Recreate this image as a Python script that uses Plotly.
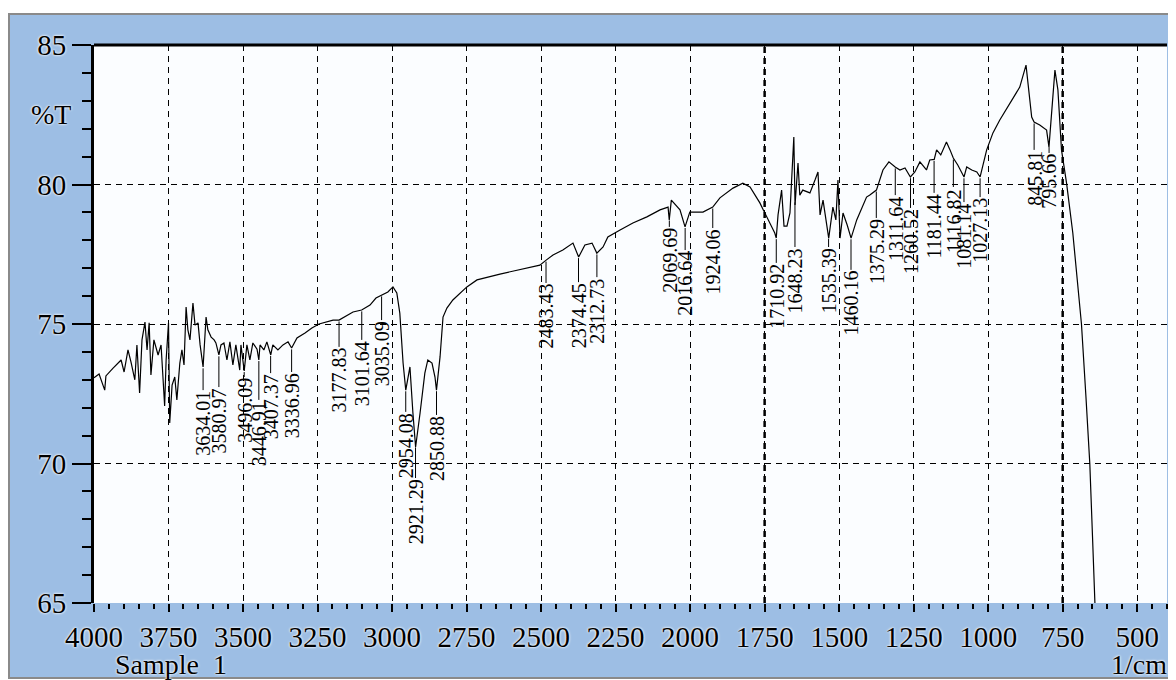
import numpy as np
import plotly.graph_objects as go

# ---------------- data ----------------
wavenumber = [4000, 3983, 3964, 3960, 3936, 3909, 3899, 3886, 3876, 3863,
              3856, 3847, 3839, 3829, 3822, 3815, 3809, 3799, 3785, 3775,
              3763, 3758, 3750, 3746, 3738, 3729, 3722, 3712, 3705, 3698,
              3691, 3685, 3678, 3668, 3661, 3651, 3644, 3634, 3624, 3618,
              3607, 3597, 3591, 3581, 3574, 3564, 3554, 3544, 3534, 3524,
              3511, 3507, 3496, 3487, 3477, 3467, 3453, 3447, 3443, 3430,
              3420, 3407, 3400, 3383, 3366, 3349, 3337, 3319, 3292, 3269,
              3245, 3222, 3198, 3178, 3155, 3131, 3102, 3074, 3054, 3035,
              3014, 2997, 2984, 2974, 2963, 2954, 2940, 2930, 2921, 2906,
              2890, 2880, 2866, 2856, 2851, 2839, 2829, 2816, 2796, 2749,
              2715, 2638, 2571, 2504, 2483, 2460, 2427, 2393, 2374, 2353,
              2329, 2313, 2292, 2276, 2235, 2192, 2145, 2101, 2074, 2070,
              2063, 2034, 2017, 2001, 1957, 1924, 1900, 1856, 1823, 1799,
              1766, 1742, 1716, 1711, 1705, 1693, 1685, 1675, 1665, 1652,
              1648, 1638, 1632, 1622, 1598, 1581, 1571, 1564, 1554, 1535,
              1521, 1511, 1504, 1497, 1487, 1473, 1460, 1441, 1408, 1397,
              1375, 1353, 1333, 1312, 1296, 1279, 1261, 1246, 1229, 1207,
              1196, 1181, 1173, 1159, 1140, 1128, 1117, 1102, 1081, 1072,
              1055, 1038, 1027, 1005, 984, 961, 927, 894, 873, 854,
              846, 827, 804, 796, 776, 766, 754, 737, 716, 687,
              672, 659, 650, 642, 630]
transmittance = [73.07, 73.21, 72.63, 73.14, 73.42, 73.71, 73.28, 74.07, 73.64, 73.00,
                 74.25, 72.53, 74.43, 75.07, 74.07, 75.04, 73.17, 74.43, 73.89, 74.25,
                 72.06, 73.71, 75.04, 71.45, 72.81, 73.10, 72.28, 73.60, 74.07, 73.53,
                 75.61, 74.79, 74.43, 75.75, 74.96, 75.04, 74.25, 73.46, 75.25, 74.79,
                 74.53, 74.43, 74.32, 73.89, 74.25, 74.32, 73.71, 74.36, 73.53, 74.25,
                 73.35, 74.25, 73.32, 74.25, 73.71, 74.32, 74.10, 73.71, 74.25, 74.07,
                 74.36, 73.89, 74.25, 74.07, 74.25, 74.36, 74.14, 74.50, 74.68, 74.86,
                 75.00, 75.07, 75.14, 75.14, 75.29, 75.43, 75.50, 75.68, 75.93, 76.04,
                 76.15, 76.33, 76.11, 75.39, 73.60, 72.63, 73.46, 71.81, 70.59, 71.81,
                 73.24, 73.71, 73.60, 73.10, 72.63, 73.82, 75.25, 75.57, 75.86, 76.33,
                 76.58, 76.79, 76.94, 77.11, 77.29, 77.47, 77.65, 77.90, 77.40, 77.83,
                 77.90, 77.54, 77.76, 78.12, 78.37, 78.62, 78.84, 79.09, 79.19, 78.73,
                 79.44, 79.09, 78.48, 79.01, 79.01, 79.19, 79.52, 79.87, 80.05, 79.91,
                 79.34, 78.84, 78.26, 78.08, 78.91, 79.80, 78.51, 78.51, 78.98, 81.70,
                 79.27, 80.77, 79.62, 79.80, 79.70, 80.16, 80.45, 78.91, 79.44, 78.08,
                 79.19, 78.73, 80.16, 78.08, 78.98, 78.55, 78.08, 78.73, 79.55, 79.62,
                 79.80, 80.52, 80.81, 80.63, 80.52, 80.59, 80.27, 80.45, 80.81, 80.52,
                 80.88, 80.90, 81.24, 81.06, 81.52, 81.24, 80.95, 80.70, 80.27, 80.63,
                 80.52, 80.45, 80.27, 81.24, 81.85, 82.31, 82.92, 83.49, 84.28, 82.42,
                 82.24, 82.13, 81.95, 81.34, 84.10, 83.39, 81.24, 80.05, 78.26, 75.00,
                 72.40, 70.00, 67.40, 65.00, 61.50]

peak_labels = ["3634.01", "3580.97", "3496.09", "3446.91", "3407.37", "3336.96",
               "3177.83", "3101.64", "3035.09", "2954.08", "2921.29", "2850.88",
               "2483.43", "2374.45", "2312.73", "2069.69", "2016.64", "1924.06",
               "1710.92", "1648.23", "1535.39", "1460.16", "1375.29", "1311.64",
               "1260.52", "1181.44", "1116.82", "1081.14", "1027.13", "845.81",
               "795.66"]
peak_wn = [float(s) for s in peak_labels]
label_top = [72.63, 72.74, 73.10, 72.28, 73.24, 73.28,
             74.18, 74.43, 75.14, 71.85, 69.48, 71.74,
             76.47, 76.50, 76.68, 78.48, 77.65, 78.44,
             77.19, 77.76, 77.76, 76.94, 78.80, 79.62,
             79.16, 79.70, 79.91, 79.37, 79.55, 81.24,
             81.13]

x_ticks = [4000, 3750, 3500, 3250, 3000, 2750, 2500, 2250, 2000, 1750, 1500, 1250, 1000, 750, 500]
y_ticks = [65, 70, 75, 80, 85]
heavy_grid = [1750, 750]

# ---------------- figure ----------------
# (the page body adds an 8px margin, so the figure is 8px smaller and margins shifted)
SERIF = "Liberation Serif, Times New Roman, serif"
HALO = "0px 0px 3px white, 0px 0px 2px white"
BLUE = "#9dbee4"
W, H = 1168, 672
L, R, T, B = 86, 9, 37, 77
PW, PH = W - L - R, H - T - B
X0, X1 = 4000, 400
Y0, Y1 = 65, 85
PX_PER_UNIT = PH / (Y1 - Y0)
LABEL_SIZE = 20


def px(xf):
    return (xf - L) / PW


def py(yf):
    return (H - B - yf) / PH


def text_len(s, size):
    # approximate advance width of a Times-like number string
    return sum(0.25 if c == "." else 0.5 for c in s) * size


fig = go.Figure()

fig.add_trace(go.Scatter(
    x=wavenumber, y=transmittance, mode="lines",
    line=dict(color="black", width=1.2), hoverinfo="skip", showlegend=False))

# leader lines from label to curve
wn_asc = np.array(wavenumber[::-1], dtype=float)
t_asc = np.array(transmittance[::-1], dtype=float)
lx, ly = [], []
for w, top in zip(peak_wn, label_top):
    cy = float(np.interp(w, wn_asc, t_asc))
    lx += [w, w, None]
    ly += [top, cy - 0.05, None]
fig.add_trace(go.Scatter(x=lx, y=ly, mode="lines",
                         line=dict(color="black", width=1),
                         hoverinfo="skip", showlegend=False))

for txt, w, top in zip(peak_labels, peak_wn, label_top):
    half = text_len(txt, LABEL_SIZE) / 2 / PX_PER_UNIT
    fig.add_annotation(x=w, y=top - half - 0.04, xref="x", yref="y", text=txt,
                       textangle=-90, showarrow=False, xanchor="center",
                       yanchor="middle", borderpad=0,
                       font=dict(family=SERIF, size=LABEL_SIZE, color="black"))

# panel background and plot area
fig.add_shape(type="rect", xref="paper", yref="paper",
              x0=px(1), x1=px(W + 20), y0=py(670), y1=py(6),
              fillcolor=BLUE, line=dict(color="#8a8a8a", width=2), layer="below")
fig.add_shape(type="rect", xref="paper", yref="paper",
              x0=0, x1=1, y0=0, y1=1, fillcolor="#fbfdff",
              line=dict(width=0), layer="below")
fig.add_shape(type="line", xref="paper", yref="paper", x0=0, x1=1, y0=1, y1=1,
              line=dict(color="black", width=3), layer="above")
for g in heavy_grid:
    fig.add_shape(type="line", xref="x", yref="paper", x0=g, x1=g, y0=0, y1=1,
                  line=dict(color="black", width=2.5, dash="6px,5px"), layer="between")

fig.add_annotation(x=px(43), y=py(107), xref="paper", yref="paper", text="%T",
                   showarrow=False, xanchor="center", yanchor="middle",
                   font=dict(family=SERIF, size=28, color="black", shadow=HALO))
fig.add_annotation(x=px(163), y=py(656), xref="paper", yref="paper", text="Sample  1",
                   showarrow=False, xanchor="center", yanchor="middle",
                   font=dict(family=SERIF, size=28, color="black", shadow=HALO))
fig.add_annotation(x=px(1161), y=py(656), xref="paper", yref="paper", text="1/cm",
                   showarrow=False, xanchor="right", yanchor="middle",
                   font=dict(family=SERIF, size=28, color="black", shadow=HALO))

fig.update_xaxes(
    range=[X0, X1], tickmode="array", tickvals=x_ticks,
    ticktext=[str(v) for v in x_ticks],
    ticks="outside", ticklen=8, tickwidth=2, tickcolor="black",
    showgrid=True, gridcolor="black", gridwidth=1, griddash="6px,5px",
    showline=False, zeroline=False,
    tickfont=dict(family=SERIF, size=29, color="black", shadow=HALO),
    minor=dict(tickmode="linear", tick0=0, dtick=50, ticks="outside", ticklen=5,
               tickwidth=1.5, tickcolor="black", showgrid=False))
fig.update_yaxes(
    range=[Y0, Y1], tickmode="array", tickvals=y_ticks,
    ticktext=[str(v) for v in y_ticks],
    ticks="outside", ticklen=19, tickwidth=2, tickcolor="black",
    showgrid=True, gridcolor="black", gridwidth=1, griddash="6px,5px",
    showline=True, linewidth=3, linecolor="black", zeroline=False,
    tickfont=dict(family=SERIF, size=29, color="black", shadow=HALO),
    minor=dict(tickmode="linear", tick0=0, dtick=1, ticks="outside", ticklen=9,
               tickwidth=2, tickcolor="black", showgrid=False))

fig.update_layout(width=W, height=H, margin=dict(l=L, r=R, t=T, b=B),
                  paper_bgcolor="white", plot_bgcolor="white", showlegend=False)

fig.write_html("out.html")
